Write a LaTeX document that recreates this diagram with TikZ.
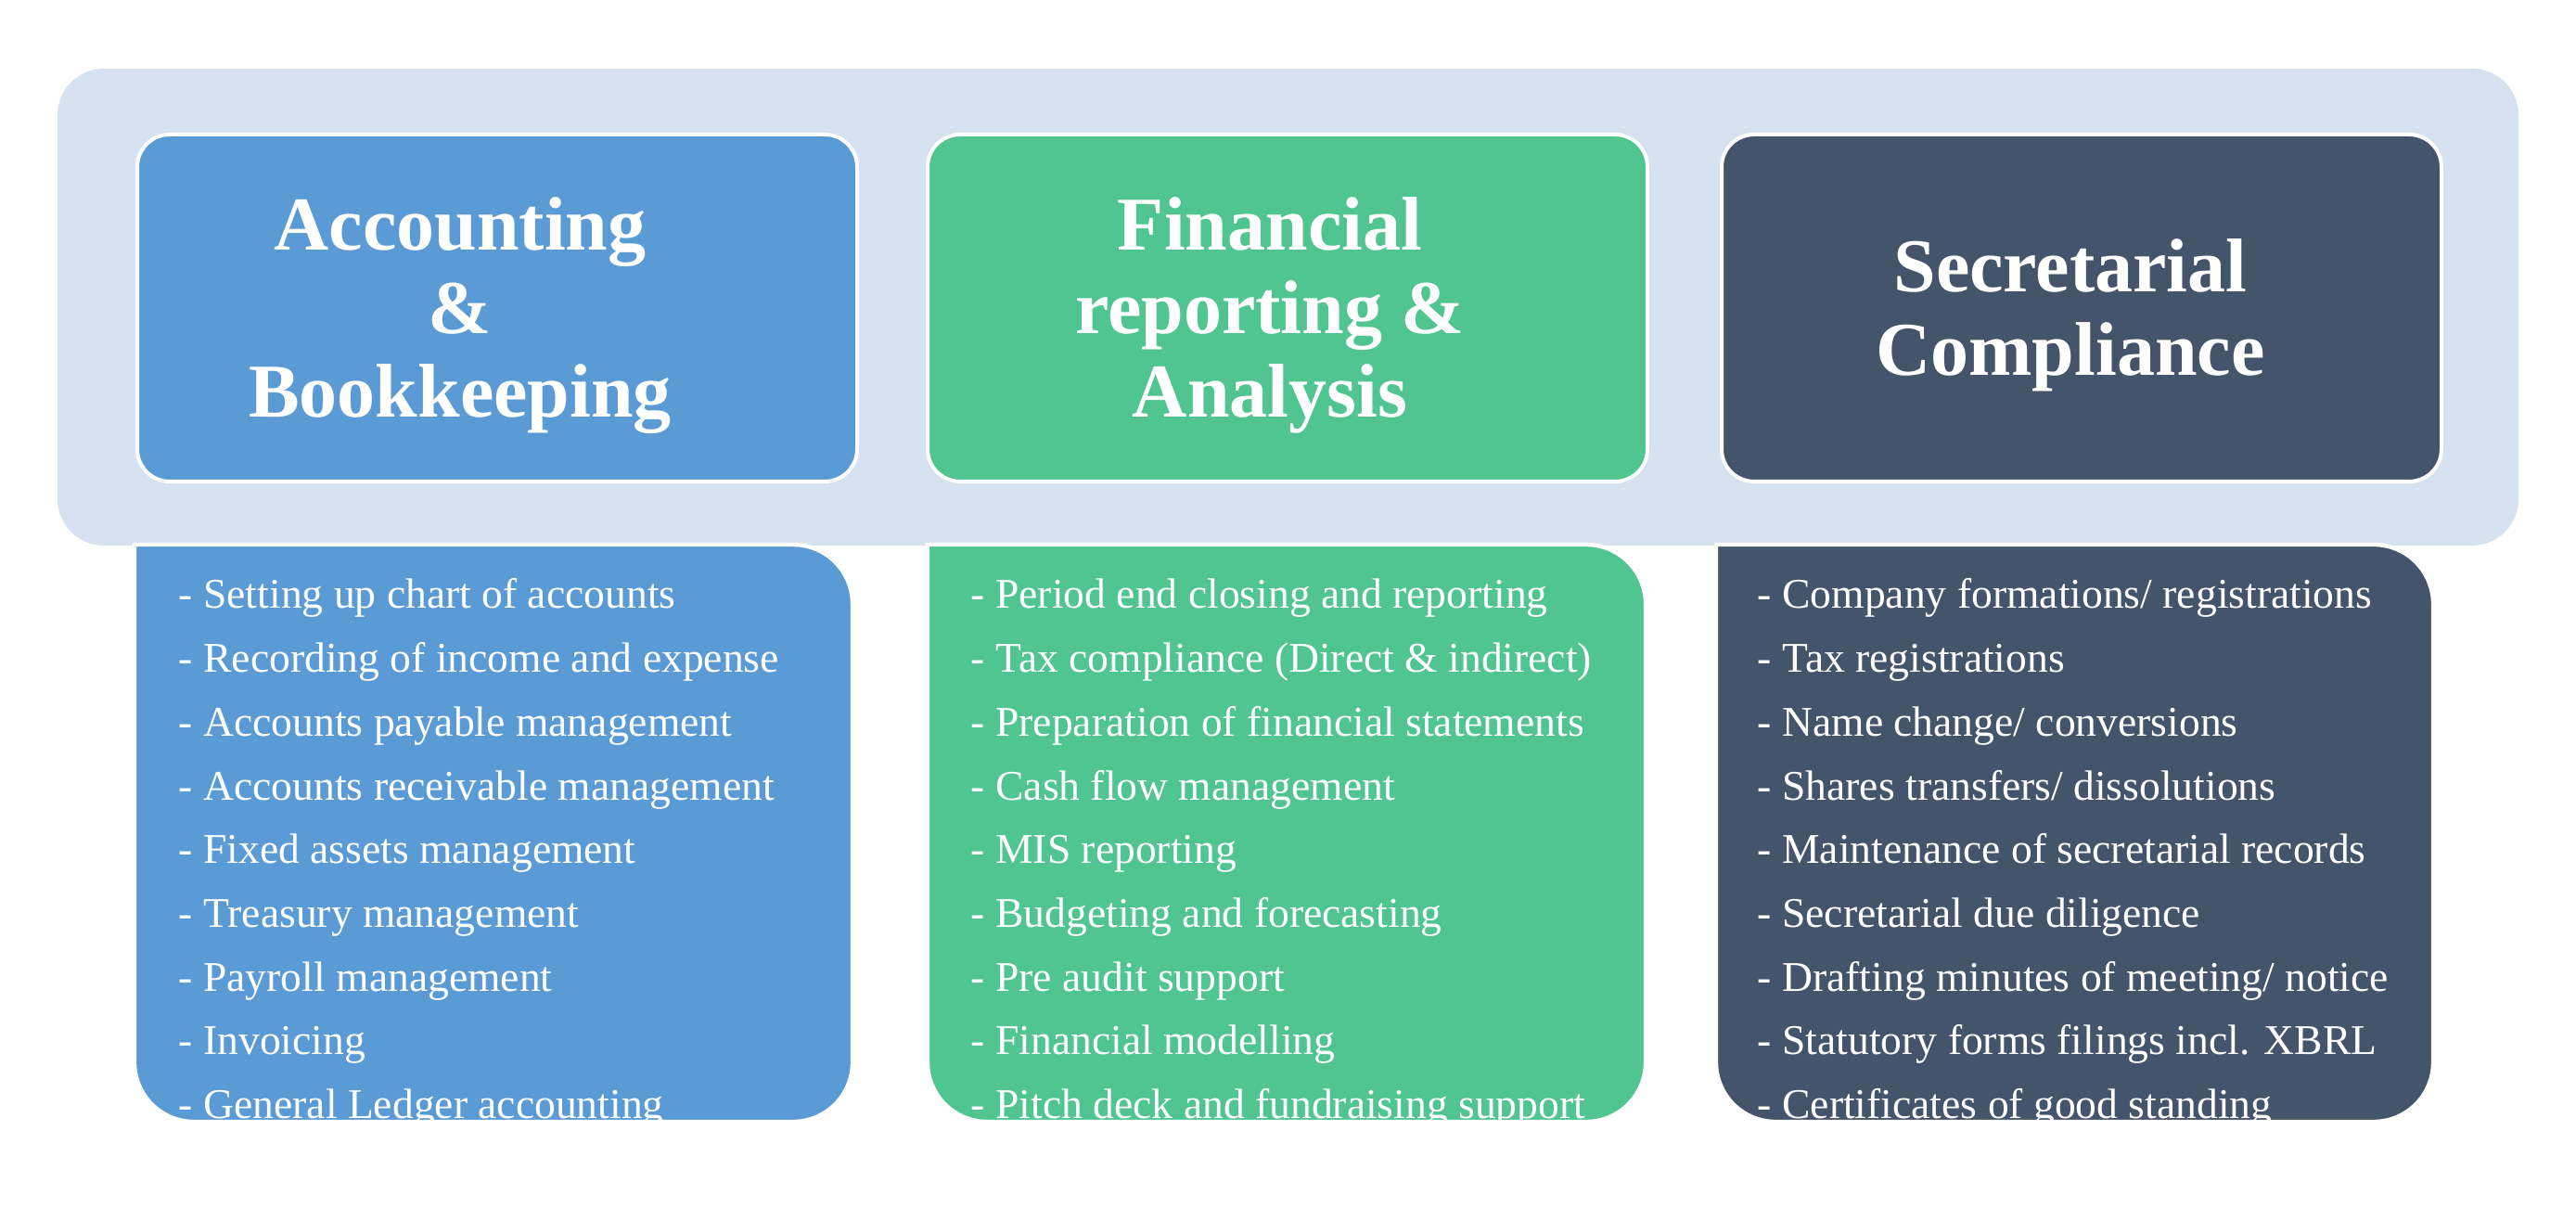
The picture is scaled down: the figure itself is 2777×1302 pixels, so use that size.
\documentclass[tikz,border=0pt]{standalone}
\usepackage{fontspec}
\setmainfont{Liberation Serif}
\definecolor{bgblue}{RGB}{215,226,241}
\definecolor{cblue}{RGB}{91,155,213}
\definecolor{cgreen}{RGB}{80,197,143}
\definecolor{cslate}{RGB}{68,84,106}
\begin{document}
\begin{tikzpicture}[x=0.25pt,y=-0.25pt,
  hbox/.style={draw=white,line width=1pt,rounded corners=8.75pt,inner sep=0pt,outer sep=0pt,
    minimum width=194pt,minimum height=93.5pt},
  lowbox/.style={draw=white,line width=1.1pt},
  htext/.style={text=white,font=\bfseries\fontsize{20.5}{22.5}\selectfont,anchor=base,inner sep=0pt},
  ltext/.style={text=white,font=\fontsize{11.4}{14}\selectfont,anchor=base west,inner sep=0pt},
]
\useasboundingbox (0,0) rectangle (2777,1302);
\fill[white] (0,0) rectangle (2777,1302);
% background band
\fill[bgblue, rounded corners=12.5pt] (62,74) rectangle (2715,588);
% lower list boxes
\filldraw[lowbox, fill=cblue] (145,587) [rounded corners=16pt] -- (145,1209) -- (919,1209) -- (919,587) [sharp corners] -- cycle;
\filldraw[lowbox, fill=cgreen] (1000,587) [rounded corners=16pt] -- (1000,1209) -- (1774,1209) -- (1774,587) [sharp corners] -- cycle;
\filldraw[lowbox, fill=cslate] (1850,587) [rounded corners=16pt] -- (1850,1209) -- (2623,1209) -- (2623,587) [sharp corners] -- cycle;
% header boxes
\node[hbox, fill=cblue] (h1) at (536,332) {};
\node[hbox, fill=cgreen] (h2) at (1388,332) {};
\node[hbox, fill=cslate] (h3) at (2244,332) {};
% header texts
\node[htext] (t1a) at (496,270) {Accounting};
\node[htext] (t1b) at (496,360) {\&};
\node[htext] (t1c) at (496,450) {Bookkeeping};
\node[htext] (t2a) at (1369,270) {Financial};
\node[htext] (t2b) at (1369,360) {reporting \&};
\node[htext] (t2c) at (1369,450) {Analysis};
\node[htext] (t3a) at (2232,315) {Secretarial};
\node[htext] (t3b) at (2232,405) {Compliance};
% list texts
\begin{scope}
\clip (145,589) [rounded corners=16pt] -- (145,1209) -- (919,1209) -- (919,589) [sharp corners] -- cycle;
\foreach \t [count=\i] in {Setting up chart of accounts,Recording of income and expense,Accounts payable management,Accounts receivable management,Fixed assets management,Treasury management,Payroll management,Invoicing,General Ledger accounting}
  \node[ltext] (a\i) at (192,{656+68.7*(\i-1)}) {- \t};
\end{scope}
\begin{scope}
\clip (1000,589) [rounded corners=16pt] -- (1000,1209) -- (1774,1209) -- (1774,589) [sharp corners] -- cycle;
\foreach \t [count=\i] in {Period end closing and reporting,Tax compliance (Direct \& indirect),Preparation of financial statements,Cash flow management,MIS reporting,Budgeting and forecasting,Pre audit support,Financial modelling,Pitch deck and fundraising support}
  \node[ltext] (b\i) at (1046,{656+68.7*(\i-1)}) {- \t};
\end{scope}
\begin{scope}
\clip (1850,589) [rounded corners=16pt] -- (1850,1209) -- (2623,1209) -- (2623,589) [sharp corners] -- cycle;
\foreach \t [count=\i] in {Company formations/ registrations,Tax registrations,Name change/ conversions,Shares transfers/ dissolutions,Maintenance of secretarial records,Secretarial due diligence,Drafting minutes of meeting/ notice,Statutory forms filings incl. XBRL,Certificates of good standing}
  \node[ltext] (c\i) at (1894,{656+68.7*(\i-1)}) {- \t};
\end{scope}
\end{tikzpicture}
\end{document}
